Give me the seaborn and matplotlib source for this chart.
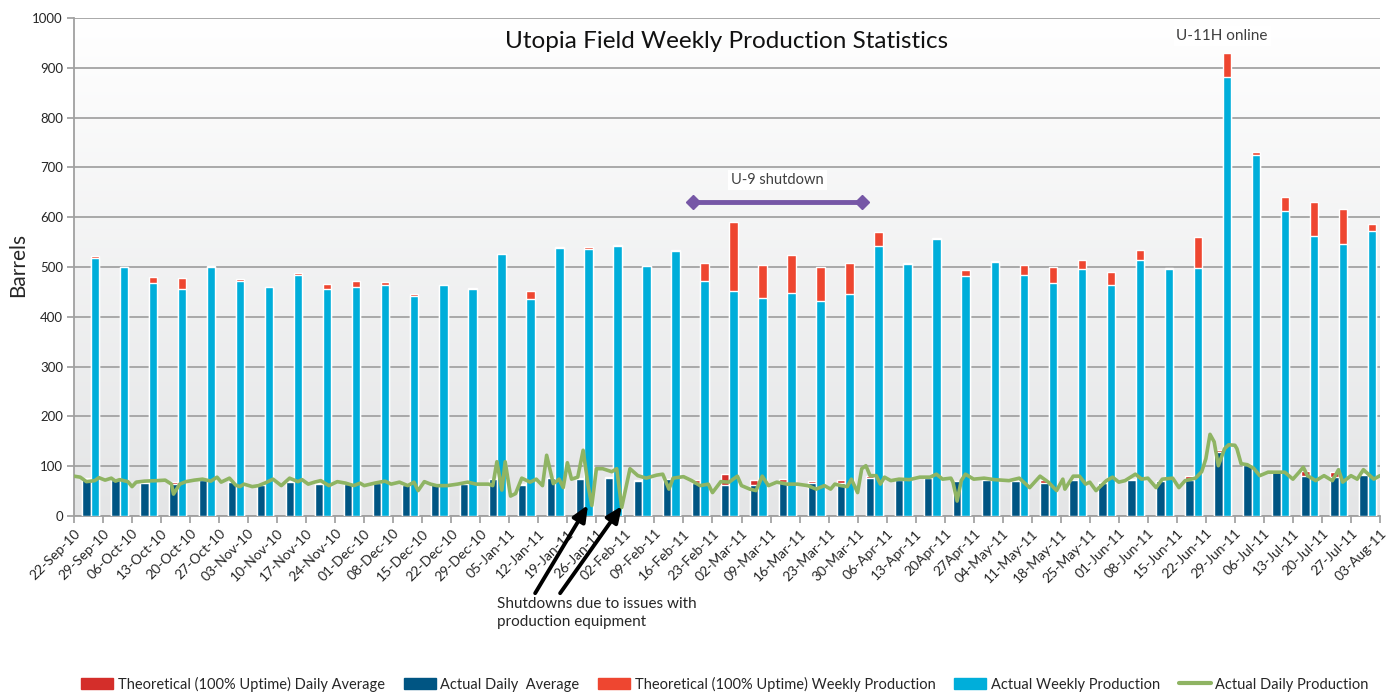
import matplotlib
matplotlib.use('Agg')
import matplotlib.pyplot as plt
from matplotlib.patches import Patch
from matplotlib.lines import Line2D
import numpy as np
import pandas as pd
import seaborn as sns

# week boundaries (tick labels)
week_labels = ['22-Sep-10', '29-Sep-10', '06-Oct-10', '13-Oct-10', '20-Oct-10', '27-Oct-10',
               '03-Nov-10', '10-Nov-10', '17-Nov-10', '24-Nov-10', '01-Dec-10', '08-Dec-10',
               '15-Dec-10', '22-Dec-10', '29-Dec-10', '05-Jan-11', '12-Jan-11', '19-Jan-11',
               '26-Jan-11', '02-Feb-11', '09-Feb-11', '16-Feb-11', '23-Feb-11', '02-Mar-11',
               '09-Mar-11', '16-Mar-11', '23-Mar-11', '30-Mar-11', '06-Apr-11', '13-Apr-11',
               '20Apr-11', '27Apr-11', '04-May-11', '11-May-11', '18-May-11', '25-May-11',
               '01-Jun-11', '08-Jun-11', '15-Jun-11', '22-Jun-11', '29-Jun-11', '06-Jul-11',
               '13-Jul-11', '20-Jul-11', '27-Jul-11', '03-Aug-11']

# weekly values (one per week interval)
actual_weekly = [519, 500, 467, 455, 500, 471, 460, 483, 455, 460, 463, 441, 463, 455, 527,
                 436, 539, 536, 542, 503, 532, 472, 451, 437, 448, 432, 446, 543, 507, 556,
                 482, 510, 483, 467, 495, 463, 515, 495, 497, 882, 725, 612, 563, 547, 573]
theo_weekly = [522, 500, 480, 478, 503, 476, 460, 488, 465, 471, 469, 446, 463, 458, 527,
               451, 541, 540, 545, 503, 534, 509, 590, 504, 524, 500, 509, 570, 509, 559,
               493, 512, 505, 500, 514, 489, 534, 497, 561, 930, 730, 640, 631, 617, 586]
actual_daily_avg = [75, 73, 66, 65, 72, 68, 63, 69, 65, 65, 66, 63, 65, 65, 75, 62, 77, 75,
                    77, 70, 75, 67, 62, 62, 68, 66, 66, 77, 72, 77, 70, 73, 70, 67, 72, 66,
                    73, 70, 72, 128, 103, 89, 80, 78, 83]
theo_daily_avg = [76, 73, 68, 68, 72, 68, 65, 70, 66, 66, 67, 63, 65, 65, 75, 64, 77, 77,
                  78, 72, 75, 73, 84, 72, 75, 71, 73, 81, 72, 77, 71, 73, 71, 72, 73, 69,
                  74, 71, 80, 133, 104, 91, 90, 88, 84]

# daily production (days since 22-Sep-10)
daily_day = [0, 1.5, 3, 5, 6, 7.5, 9, 10, 11, 13, 14, 15, 17, 20, 22, 23.5, 24, 25.5, 27, 29,
             31, 33, 34.5, 35.5, 37.5, 39, 40, 41, 43, 44.5, 46, 48, 50, 52, 54, 55, 56.5, 58,
             59.5, 61.5, 63.5, 65.5, 67.5, 69, 70, 72.5, 75, 76.5, 78.5, 80.5, 82, 83, 84.5,
             86, 87.5, 90, 92.5, 95, 97, 100, 101, 102, 103.2, 104, 105.3, 106.5, 108, 110,
             111.5, 113, 114, 115.6, 117, 118, 119, 120, 121.5, 122.8, 124, 124.9, 126, 127.5,
             129.7, 130.9, 132.1, 134.1, 136, 138, 140.5, 142, 143.5, 144.5, 147, 149, 151,
             153, 154, 156, 158, 160, 161, 163, 164.5, 166, 167.5, 169.5, 172, 174.5, 177,
             179, 181, 182.5, 183.5, 185, 186.5, 187.5, 189, 190, 191, 192, 193.5, 194.5,
             195.5, 197, 199, 201.5, 204, 206.5, 208, 209.5, 211.5, 212, 213, 214, 215, 217,
             219.5, 222, 225.5, 228, 230.5, 233, 235, 237, 238.5, 239, 241, 242.5, 244, 245,
             246.5, 249, 250.5, 252, 253.5, 256, 257.5, 259, 261, 262.5, 265, 266.5, 268,
             270.5, 272, 273, 274, 275, 276, 277.5, 278.5, 280, 280.5, 281.5, 283, 284.5,
             286, 288, 291, 292, 294, 295.5, 296.5, 297.5, 299.5, 301.5, 303.5, 305, 306,
             308, 309.5, 311, 313.5, 315]
daily_value = [80, 78, 69, 71, 77, 72, 76, 70, 73, 69, 59, 68, 70, 71, 72, 64, 44, 64, 69, 72,
               74, 70, 78, 68, 76, 62, 59, 64, 59, 61, 66, 74, 61, 76, 69, 73, 64, 68,
               71, 61, 69, 66, 61, 66, 61, 66, 70, 64, 68, 61, 68, 51, 69,
               64, 61, 61, 64, 68, 64, 64, 61, 109, 52, 109, 40, 45, 76, 68,
               74, 61, 122, 65, 74, 57, 107, 74, 78, 132, 61, 21, 95, 95,
               89, 95, 17, 95, 81, 76, 82, 84, 54, 76, 79, 71, 61,
               64, 47, 69, 68, 80, 61, 54, 51, 80, 61, 68, 64, 64, 61,
               54, 61, 54, 64, 61, 59, 74, 47, 95, 101, 81, 81, 64,
               78, 71, 74, 73, 78, 78, 84, 74, 76, 68, 30, 71, 84, 74,
               76, 73, 71, 76, 57, 80, 68, 51, 74, 54, 80, 80, 64, 68,
               51, 71, 78, 68, 71, 84, 74, 76, 57, 74, 76, 57, 71,
               76, 89, 115, 164, 149, 101, 135, 143, 142, 135, 105, 103, 96,
               81, 88, 88, 88, 74, 88, 98, 81, 71, 81, 71, 93, 68,
               81, 74, 93, 74, 81]

# annotation spans (in weeks since 22-Sep-10)
u9_start, u9_end, u9_level = 21.33, 27.15, 630

c_theo_daily = '#D42E2A'
c_act_daily = '#005583'
c_theo_weekly = '#EE4630'
c_act_weekly = '#00AEDA'
c_line = '#8FB463'
c_purple = '#7657A6'

sns.set_theme(style='white')
plt.rcParams['font.family'] = ['Lato', 'DejaVu Sans']

n = len(actual_weekly)
weeks = list(range(n))
theo_df = pd.DataFrame({'week': weeks * 2,
                        'series': ['daily'] * n + ['weekly'] * n,
                        'value': theo_daily_avg + theo_weekly})
act_df = pd.DataFrame({'week': weeks * 2,
                       'series': ['daily'] * n + ['weekly'] * n,
                       'value': actual_daily_avg + actual_weekly})

fig = plt.figure(figsize=(13.92, 6.93), dpi=100)
ax = fig.add_axes([74 / 1392, 1 - 516 / 693, 1306 / 1392, 498 / 693])

# background gradient
grad = np.linspace(1, 0, 256).reshape(-1, 1)
ax.imshow(grad, extent=[0, 1, 0, 1], transform=ax.transAxes, aspect='auto',
          cmap=matplotlib.colors.LinearSegmentedColormap.from_list('bg', ['#E4E5E6', '#FFFFFF']),
          zorder=0)

sns.barplot(data=theo_df, x='week', y='value', hue='series', palette=[c_theo_daily, c_theo_weekly],
            width=0.58, gap=0, errorbar=None, saturation=1, legend=False, ax=ax, zorder=3)
sns.barplot(data=act_df, x='week', y='value', hue='series', palette=[c_act_daily, c_act_weekly],
            width=0.58, gap=0, errorbar=None, saturation=1, legend=False, ax=ax, zorder=4)

shift = 0.58  # week boundary offset relative to bar-pair centre
line_x = np.array(daily_day) / 7 - shift
sns.lineplot(x=line_x, y=daily_value, color=c_line, linewidth=2.6, ax=ax, zorder=5)
for l in ax.lines:
    l.set_solid_joinstyle('round')

ax.set_xlim(-shift, n - shift)
ax.set_ylim(0, 1000)
ax.set_xticks(np.arange(n + 1) - shift)
ax.set_xticklabels(week_labels, rotation=45, ha='right', rotation_mode='anchor', fontsize=10)
ax.set_yticks(np.arange(0, 1001, 100))
ax.tick_params(axis='y', labelsize=9.5, length=5, color='#A0A0A0', left=True, pad=3)
ax.tick_params(axis='x', length=5, color='#A0A0A0', bottom=True, pad=3)
ax.set_xlabel('')
ax.set_ylabel('')
ax.grid(axis='y', color='#A3A3A3', linewidth=1.3, zorder=1)
ax.set_axisbelow(True)
for s in ['top', 'right']:
    ax.spines[s].set_visible(False)
for s in ['left', 'bottom']:
    ax.spines[s].set_color('#A0A0A0')
    ax.spines[s].set_linewidth(1.3)

ax.text(0.5, 0.952, 'Utopia Field Weekly Production Statistics', transform=ax.transAxes,
        ha='center', va='center', fontsize=17.5, color='#111111', zorder=6)
fig.text(18 / 1392, 1 - 265 / 693, 'Barrels', rotation=90, ha='center', va='center', fontsize=15)

# U-9 shutdown
ax.plot([u9_start - shift, u9_end - shift], [u9_level, u9_level], color=c_purple, lw=3.5,
        marker='D', markersize=7, zorder=6)
ax.text((u9_start + u9_end) / 2 - shift, 675, 'U-9 shutdown', ha='center', va='center',
        fontsize=10.5, color='#404040', zorder=6,
        bbox=dict(facecolor='white', edgecolor='none', pad=2))

ax.text(39.56 - shift, 964, 'U-11H online', ha='center', va='center', fontsize=11,
        color='#404040', zorder=6, bbox=dict(facecolor='white', edgecolor='none', pad=2))

# shutdown arrows
for tail, head in [((15.89, -155), (17.71, 22)), ((16.75, -155), (18.88, 20))]:
    ax.annotate('', xy=(head[0] - shift, head[1]), xytext=(tail[0] - shift, tail[1]),
                xycoords='data', textcoords='data', annotation_clip=False,
                arrowprops=dict(arrowstyle='-|>,head_length=0.8,head_width=0.35', color='black',
                                lw=2.8, shrinkA=0, shrinkB=0), zorder=7)
ax.text(14.58 - shift, -163, 'Shutdowns due to issues with\nproduction equipment',
        ha='left', va='top', fontsize=11, linespacing=1.35, clip_on=False)

handles = [Patch(color=c_theo_daily), Patch(color=c_act_daily), Patch(color=c_theo_weekly),
           Patch(color=c_act_weekly), Line2D([], [], color=c_line, lw=3)]
labels = ['Theoretical (100% Uptime) Daily Average', 'Actual Daily  Average',
          'Theoretical (100% Uptime) Weekly Production', 'Actual Weekly Production',
          'Actual Daily Production']
fig.legend(handles, labels, loc='center', bbox_to_anchor=(0.5 + 29 / 1392, 1 - 684 / 693), ncol=5,
           frameon=False, fontsize=10.5, handlelength=2.2, handleheight=0.7,
           handletextpad=0.3, columnspacing=1.3)

fig.savefig('out.png', dpi=100)
